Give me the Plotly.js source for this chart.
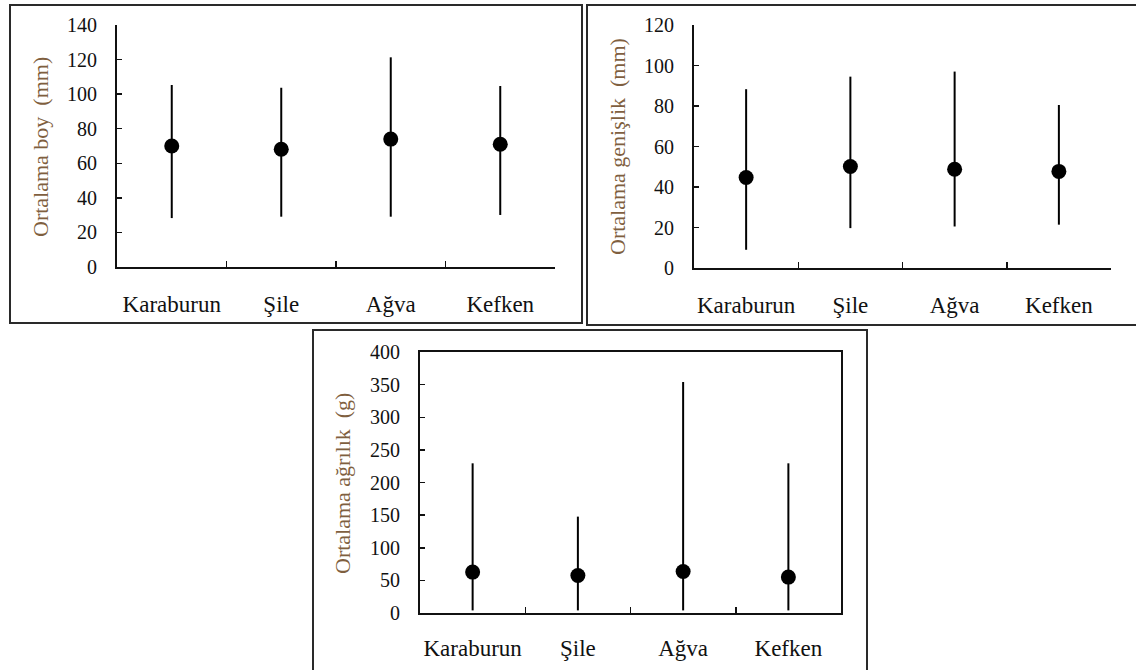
<!DOCTYPE html>
<html>
<head>
<meta charset="utf-8">
<script src="https://cdn.plot.ly/plotly-3.0.1.min.js"></script>
<style>
  html, body { margin: 0; padding: 0; background: #fff; }
  #chart { width: 1136px; height: 670px; }
</style>
</head>
<body>
<div id="chart"></div>
<script>
// ---- Data ----
const categories = ['Karaburun', 'Şile', 'Ağva', 'Kefken'];

const boyMean = [70.0, 68.1, 74.0, 71.0];
const boyMax  = [105.3, 103.7, 121.3, 104.7];
const boyMin  = [28.3, 29.1, 29.1, 30.1];

const genMean = [44.7, 50.1, 48.8, 47.7];
const genMax  = [88.3, 94.5, 97.0, 80.5];
const genMin  = [9.0, 19.7, 20.5, 21.4];

const agrMean = [62.7, 57.5, 63.6, 55.0];
const agrMax  = [229.4, 147.7, 354.0, 229.4];
const agrMin  = [4, 4, 4, 4];

const yTitles = ['Ortalama boy  (mm)', 'Ortalama genişlik  (mm)', 'Ortalama ağrılık  (g)'];

// ---- Helpers ----
const W = 1136, H = 670;
const px = v => v / W;
const py = v => 1 - v / H;
const FONT = 'Liberation Serif, Times New Roman, serif';

function seriesTrace(mean, max, min, xa, ya) {
  return {
    type: 'scatter', mode: 'markers',
    x: categories, y: mean, xaxis: xa, yaxis: ya,
    marker: { size: 15, color: '#000' },
    error_y: {
      type: 'data', symmetric: false,
      array: max.map((v, i) => v - mean[i]),
      arrayminus: mean.map((v, i) => v - min[i]),
      width: 0, thickness: 2, color: '#000'
    },
    showlegend: false, hoverinfo: 'skip'
  };
}

function xAxis(domain, anchor, mirror, standoff) {
  return {
    domain: domain, anchor: anchor, type: 'category',
    range: [-0.5, categories.length - 0.5],
    showline: true, linecolor: '#111', linewidth: 2, mirror: mirror,
    ticks: 'inside', tickson: 'boundaries', ticklen: 6, tickwidth: 1.5, tickcolor: '#111',
    showgrid: false, zeroline: false, fixedrange: true,
    tickangle: 0,
    tickfont: { family: FONT, size: 23, color: '#111' },
    ticklabelstandoff: standoff
  };
}
function yAxis(domain, anchor, range, dtick, mirror) {
  return {
    domain: domain, anchor: anchor, range: range, dtick: dtick,
    showline: true, linecolor: '#111', linewidth: 2, mirror: mirror,
    ticks: 'inside', ticklen: 5, tickwidth: 1.5, tickcolor: '#111',
    showgrid: false, zeroline: false, fixedrange: true,
    tickfont: { family: FONT, size: 20, color: '#111' },
    ticklabelstandoff: 14
  };
}

const data = [
  seriesTrace(boyMean, boyMax, boyMin, 'x', 'y'),
  seriesTrace(genMean, genMax, genMin, 'x2', 'y2'),
  seriesTrace(agrMean, agrMax, agrMin, 'x3', 'y3')
];

const layout = {
  width: W, height: H,
  margin: { l: 0, r: 0, t: 0, b: 0 },
  paper_bgcolor: '#fff', plot_bgcolor: 'rgba(0,0,0,0)',
  showlegend: false,
  xaxis:  xAxis([px(117), px(555)], 'y', false, 15),
  yaxis:  yAxis([py(267), py(25)], 'x', [0, 140], 20, false),
  xaxis2: xAxis([px(694), px(1111)], 'y2', false, 15),
  yaxis2: yAxis([py(268), py(25)], 'x2', [0, 120], 20, false),
  xaxis3: xAxis([px(420), px(841)], 'y3', true, 13),
  yaxis3: yAxis([py(613), py(352)], 'x3', [0, 400], 50, true),
  annotations: [
    { text: yTitles[0], x: px(40), y: py(147) },
    { text: yTitles[1], x: px(617), y: py(147) },
    { text: yTitles[2], x: px(342), y: py(484) }
  ].map(a => Object.assign({
    xref: 'paper', yref: 'paper', textangle: -90, showarrow: false,
    xanchor: 'center', yanchor: 'middle',
    font: { family: FONT, size: 22, color: '#7f5f3f' }
  }, a)),
  shapes: [
    [10, 5, 582, 323],
    [587, 5, 1142, 325],
    [313, 330, 867, 680]
  ].map(r => ({
    type: 'rect', xref: 'paper', yref: 'paper',
    x0: px(r[0]), x1: px(r[2]), y0: py(r[3]), y1: py(r[1]),
    line: { color: '#2a2a2a', width: 2 }, fillcolor: 'rgba(0,0,0,0)', layer: 'below'
  }))
};

Plotly.newPlot('chart', data, layout, { staticPlot: true, displayModeBar: false });
</script>
</body>
</html>
